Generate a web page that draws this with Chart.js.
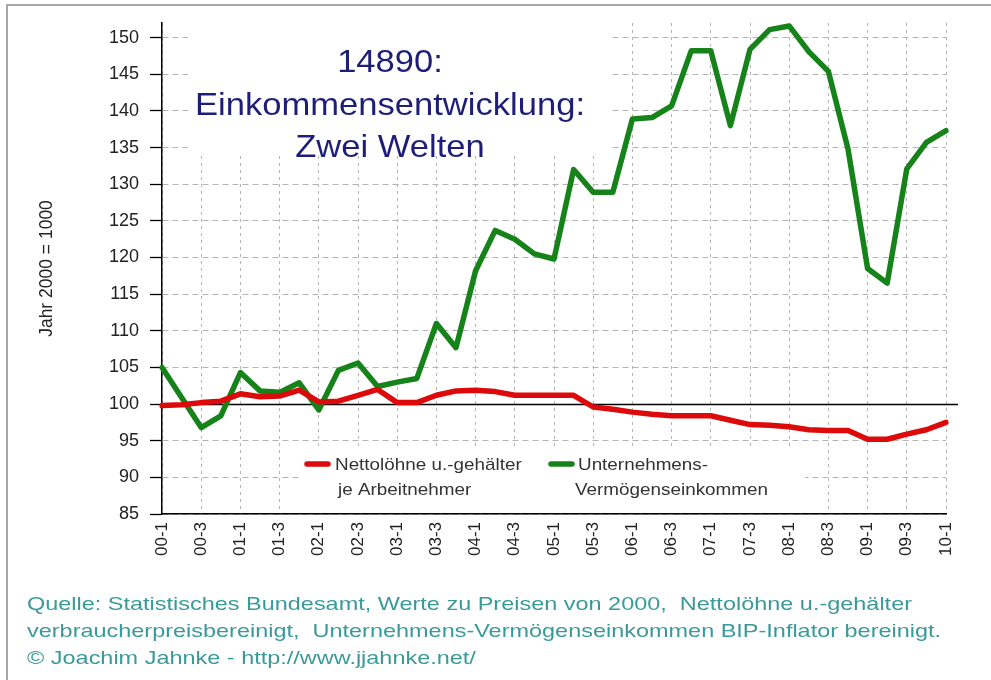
<!DOCTYPE html>
<html lang="de">
<head>
<meta charset="utf-8">
<title>14890: Einkommensentwicklung: Zwei Welten</title>
<script src="https://cdn.jsdelivr.net/npm/chart.js@4.4.1/dist/chart.umd.min.js"></script>
<style>
  html, body { margin: 0; padding: 0; background: #fff; }
  canvas { display: block; }
</style>
</head>
<body>
<canvas id="chart" width="991" height="680"></canvas>
<script>
// Quartale 2000-1 bis 2010-1
const quarters = [
    '00-1', '00-2', '00-3', '00-4', '01-1', '01-2', '01-3', '01-4',
    '02-1', '02-2', '02-3', '02-4', '03-1', '03-2', '03-3', '03-4',
    '04-1', '04-2', '04-3', '04-4', '05-1', '05-2', '05-3', '05-4',
    '06-1', '06-2', '06-3', '06-4', '07-1', '07-2', '07-3', '07-4',
    '08-1', '08-2', '08-3', '08-4', '09-1', '09-2', '09-3', '09-4',
    '10-1'
];

// Nettolöhne u.-gehälter je Arbeitnehmer (Jahr 2000 = 100)
const nettoloehne = [
    99.8, 99.9, 100.2, 100.4, 101.4, 101.0, 101.1, 101.9,
    100.3, 100.4, 101.2, 102.0, 100.2, 100.2, 101.2, 101.8,
    101.9, 101.7, 101.2, 101.2, 101.2, 101.2, 99.6, 99.3,
    98.9, 98.6, 98.4, 98.4, 98.4, 97.8, 97.2, 97.1,
    96.9, 96.5, 96.4, 96.4, 95.2, 95.2, 95.9, 96.5,
    97.5
];

// Unternehmens- und Vermögenseinkommen (Jahr 2000 = 100)
const unternehmen = [
    105.0, 100.9, 96.8, 98.4, 104.3, 101.8, 101.6, 102.9,
    99.2, 104.6, 105.6, 102.4, 103.0, 103.5, 111.0, 107.7,
    118.2, 123.7, 122.5, 120.5, 119.8, 132.0, 128.9, 128.9,
    138.9, 139.1, 140.7, 148.2, 148.2, 138.0, 148.4, 151.1,
    151.6, 148.1, 145.4, 134.8, 118.5, 116.5, 132.1, 135.7,
    137.3
];

const seriesNames = [
    ['Nettolöhne u.-gehälter', 'je Arbeitnehmer'],
    ['Unternehmens-', 'Vermögenseinkommen']
];
const seriesColors = ['#dc0a0a', '#16821a'];

const yMin = 85;
const yMax = 152;
const yStep = 5;
const baseLine = 100;

const titleLines = ['14890:', 'Einkommensentwicklung:', 'Zwei Welten'];
const yAxisTitle = 'Jahr 2000 = 1000';
const sourceLines = [
    'Quelle: Statistisches Bundesamt, Werte zu Preisen von 2000,  Nettolöhne u.-gehälter',
    'verbraucherpreisbereinigt,  Unternehmens-Vermögenseinkommen BIP-Inflator bereinigt.',
    '\u00A9 Joachim Jahnke - http://www.jjahnke.net/'
];

const FONT = "'Liberation Sans', Arial, sans-serif";
Chart.defaults.font.family = FONT;

// Text etwas breiter zeichnen (Original wirkt horizontal gestreckt)
function drawText(ctx, str, x, y, size, color, align, sx) {
    ctx.save();
    ctx.font = size + 'px ' + FONT;
    ctx.fillStyle = color;
    ctx.textAlign = align;
    ctx.textBaseline = 'alphabetic';
    ctx.translate(x, y);
    ctx.scale(sx, 1);
    ctx.fillText(str, 0, 0);
    ctx.restore();
}

function stretchFor(ctx, str, size, width) {
    ctx.save();
    ctx.font = size + 'px ' + FONT;
    const w = ctx.measureText(str).width;
    ctx.restore();
    return width / w;
}

const decor = {
    id: 'decor',
    beforeDatasetsDraw(chart) {
        const { ctx, scales: { x, y } } = chart;
        ctx.save();
        // weisse Flaechen hinter Titel und Legende
        ctx.fillStyle = '#fff';
        ctx.fillRect(188, y.top, 424, 132);
        ctx.fillRect(300, 446, 505, 66);
        // Linie bei 100
        const y100 = Math.round(y.getPixelForValue(baseLine)) + 0.5;
        ctx.strokeStyle = '#000';
        ctx.lineWidth = 1.3;
        ctx.beginPath();
        ctx.moveTo(x.left, y100);
        ctx.lineTo(x.right + 12, y100);
        ctx.stroke();
        ctx.restore();
    },
    afterDraw(chart) {
        const { ctx } = chart;

        // Titel
        const tsx = stretchFor(ctx, titleLines[1], 32, 390);
        drawText(ctx, titleLines[0], 390, 72, 32, '#1e1e78', 'center', tsx);
        drawText(ctx, titleLines[1], 390, 115, 32, '#1e1e78', 'center', tsx);
        drawText(ctx, titleLines[2], 390, 157, 32, '#1e1e78', 'center', tsx);

        // Legende
        const lsx = stretchFor(ctx, seriesNames[1][1], 17, 193);
        const legendX = [[307, 335, 338], [551, 578, 575]];
        seriesNames.forEach((name, i) => {
            const [x0, tx1, tx2] = legendX[i];
            ctx.save();
            ctx.strokeStyle = seriesColors[i];
            ctx.lineWidth = 5.5;
            ctx.lineCap = 'round';
            ctx.beginPath();
            ctx.moveTo(x0, 464);
            ctx.lineTo(x0 + 21, 464);
            ctx.stroke();
            ctx.restore();
            drawText(ctx, name[0], tx1, 470, 17, '#333', 'left', lsx);
            drawText(ctx, name[1], tx2, 495, 17, '#333', 'left', lsx);
        });

        // Quelle
        const fsx = stretchFor(ctx, sourceLines[0], 19, 885);
        sourceLines.forEach((line, i) => {
            drawText(ctx, line, 27, 610 + i * 27, 19, '#3a9a9a', 'left', fsx);
        });

        // Rahmen
        ctx.save();
        ctx.strokeStyle = '#a8a8a8';
        ctx.lineWidth = 2;
        ctx.beginPath();
        ctx.moveTo(7, 680);
        ctx.lineTo(7, 5);
        ctx.lineTo(991, 5);
        ctx.stroke();
        ctx.restore();
    }
};

new Chart(document.getElementById('chart'), {
    type: 'line',
    data: {
        labels: quarters,
        datasets: [
            {
                label: seriesNames[0].join(' '),
                data: nettoloehne,
                borderColor: seriesColors[0],
                backgroundColor: seriesColors[0],
                borderWidth: 5.5,
                borderJoinStyle: 'round',
                borderCapStyle: 'round',
                pointRadius: 0,
                tension: 0
            },
            {
                label: seriesNames[1].join(' '),
                data: unternehmen,
                borderColor: seriesColors[1],
                backgroundColor: seriesColors[1],
                borderWidth: 5.5,
                borderJoinStyle: 'round',
                borderCapStyle: 'round',
                pointRadius: 0,
                tension: 0
            }
        ]
    },
    options: {
        responsive: false,
        animation: false,
        layout: { padding: { top: 23, right: 45, bottom: 0, left: 0 } },
        plugins: {
            legend: { display: false },
            tooltip: { enabled: false }
        },
        scales: {
            x: {
                type: 'category',
                offset: false,
                afterBuildTicks(scale) {
                    scale.ticks = scale.ticks.filter((t, i) => i % 2 === 0);
                },
                afterFit(scale) {
                    scale.height = 166;
                },
                grid: {
                    color: '#b4b4b4',
                    lineWidth: 1,
                    drawTicks: false
                },
                border: { display: true, color: '#000', width: 1.5, dash: [3, 4] },
                ticks: {
                    autoSkip: false,
                    minRotation: 90,
                    maxRotation: 90,
                    padding: 8,
                    color: '#222',
                    font: { size: 17 }
                }
            },
            y: {
                min: yMin,
                max: yMax,
                afterBuildTicks(scale) {
                    scale.ticks = scale.ticks.filter(t => t.value % yStep === 0);
                },
                afterFit(scale) {
                    scale.width = 162;
                },
                grid: {
                    color: '#b4b4b4',
                    lineWidth: 1,
                    tickColor: '#000',
                    tickLength: 12,
                    tickWidth: 1.3,
                    tickBorderDash: []
                },
                border: { display: true, color: '#000', width: 1.5, dash: [6, 4] },
                ticks: {
                    stepSize: yStep,
                    includeBounds: false,
                    padding: 11,
                    color: '#222',
                    font: { size: 18 }
                },
                title: {
                    display: true,
                    text: yAxisTitle,
                    color: '#222',
                    font: { size: 17.5 },
                    padding: { top: 37, bottom: 0 }
                }
            }
        }
    },
    plugins: [decor]
});
</script>
</body>
</html>
